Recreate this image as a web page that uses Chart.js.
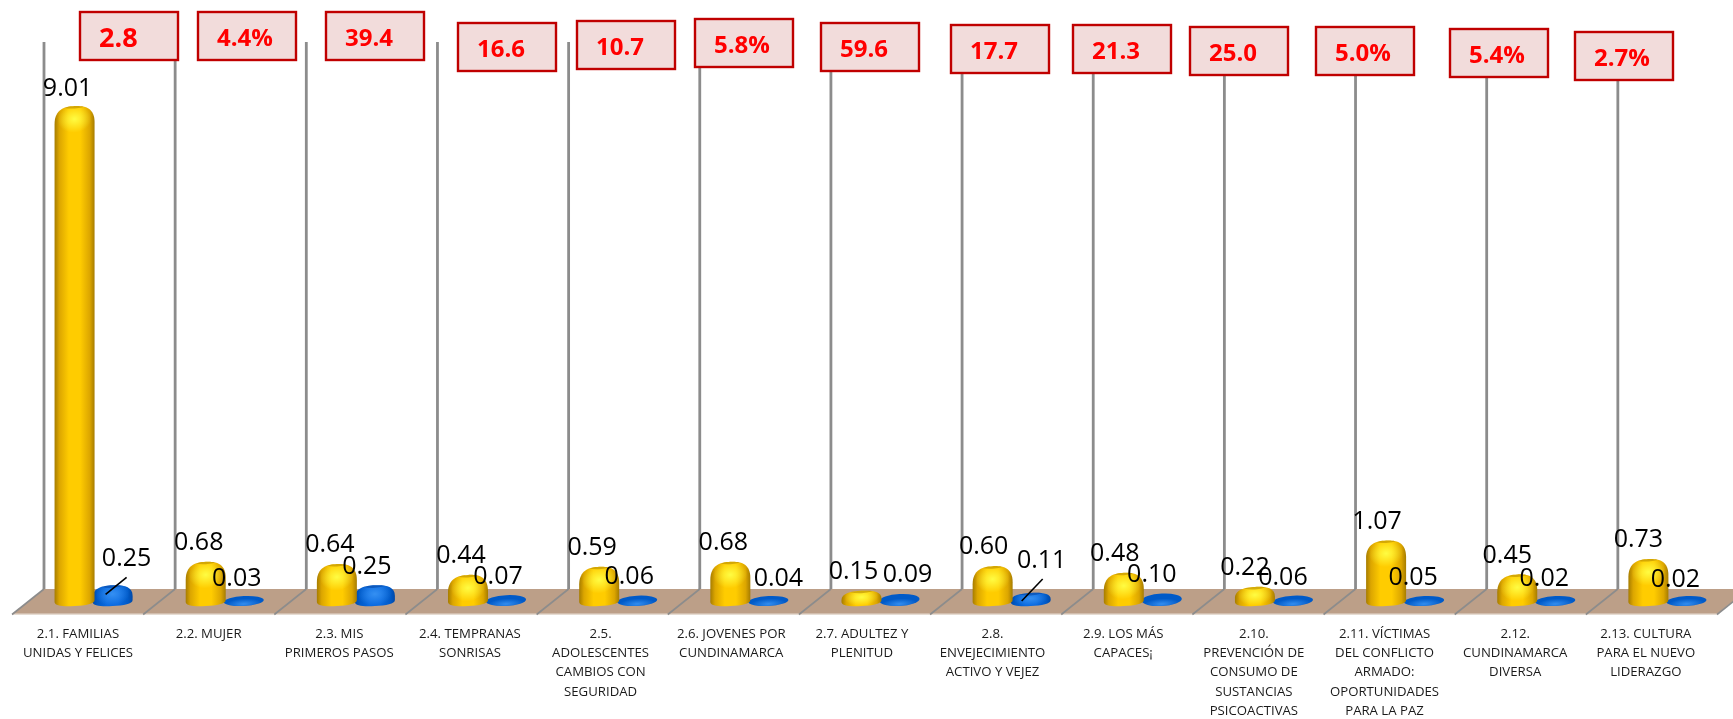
<!DOCTYPE html>
<html><head><meta charset="utf-8">
<script src="https://cdn.jsdelivr.net/npm/chart.js@4"></script>
<style>html,body{margin:0;padding:0;background:#fff}#w{position:relative;width:1733px;height:719px}</style>
</head><body><div id="w"><canvas id="c" width="1733" height="719"></canvas></div>
<script>
const categories = [
  ["2.1. FAMILIAS","UNIDAS Y FELICES"],
  ["2.2. MUJER"],
  ["2.3. MIS","PRIMEROS PASOS"],
  ["2.4. TEMPRANAS","SONRISAS"],
  ["2.5.","ADOLESCENTES","CAMBIOS CON","SEGURIDAD"],
  ["2.6. JOVENES POR","CUNDINAMARCA"],
  ["2.7. ADULTEZ Y","PLENITUD"],
  ["2.8.","ENVEJECIMIENTO","ACTIVO Y VEJEZ"],
  ["2.9. LOS MÁS","CAPACES¡"],
  ["2.10.","PREVENCIÓN DE","CONSUMO DE","SUSTANCIAS","PSICOACTIVAS"],
  ["2.11. VÍCTIMAS","DEL CONFLICTO","ARMADO:","OPORTUNIDADES","PARA LA PAZ"],
  ["2.12.","CUNDINAMARCA","DIVERSA"],
  ["2.13. CULTURA","PARA EL NUEVO","LIDERAZGO"]
];
const yellowValues = [9.01,0.68,0.64,0.44,0.59,0.68,0.15,0.60,0.48,0.22,1.07,0.45,0.73];
const blueValues   = [0.25,0.03,0.25,0.07,0.06,0.04,0.09,0.11,0.10,0.06,0.05,0.02,0.02];
const boxTexts = ["2.8","4.4%","39.4","16.6","10.7","5.8%","59.6","17.7","21.3","25.0","5.0%","5.4%","2.7%"];

// layout only
const boxLeft = [80,198,326,458,577,695,821,951,1073,1190,1316,1450,1575];
const boxTop  = [12,12,12,23,21,19,23,25,25,27,27,29,32];
const yellowLabelDx = [-7,-7,-7,-7,-7,-7,-8,-9,-9,-10,-9,-10,-10];
const yellowLabelDy = [-22,-24,-24,-24,-24,-24,-24,-24,-24,-24,-24,-24,-24];
const blueLabelDx = [14,-7,-8,-8,-8,10,8,11,-10,-10,-11,-11,-11];
const blueLabelDy = [-31,-23,-23,-23,-24,-23,-24,-37,-24,-23,-23,-24,-23];
const leaders = {0:[-21,35,0,18],7:[-20,40,1,18]};

const shades = {
  '#ffc800':{edge:'#a67c00',mid:'#dca600',core:'#ffcc00',hi:'rgba(255,255,70,0.95)',rim:'rgba(170,125,0,0.5)'},
  '#0a63d6':{edge:'#0049a8',mid:'#005ac8',core:'#0a6ae0',hi:'rgba(60,150,245,0.85)',rim:'rgba(0,60,150,0.5)'}
};
Chart.BarElement.prototype.draw = function(ctx){
  const s = shades[this.options.backgroundColor.toLowerCase()] || shades['#ffc800'];
  const cx=this.x, w=40, L=cx-w/2, R=cx+w/2, B=this.base+2, T=Math.min(this.y-5,B-10);
  const h=B-T;
  ctx.save();
  ctx.transform(1,-0.05,0,1,0,cx*0.05);
  if(h<=12.5){
    // nearly empty value: a flat disc
    ctx.beginPath();ctx.ellipse(cx,(T+B)/2,w/2,h/2,0,0,Math.PI*2);
    ctx.fillStyle=s.mid;ctx.fill();ctx.clip();
    ctx.translate(cx,B-2);ctx.scale(1,.3);
    const r0=ctx.createRadialGradient(0,0,0,0,0,18);
    r0.addColorStop(0,s.hi);r0.addColorStop(1,s.hi.replace(/[\d.]+\)$/,'0)'));
    ctx.fillStyle=r0;ctx.fillRect(-22,-22,44,44);
    ctx.restore();
    return;
  }
  const sh=Math.min(h*.55,17);
  ctx.beginPath();
  ctx.moveTo(L,B-5);
  ctx.bezierCurveTo(L,B-1,L+w*.22,B,cx,B);
  ctx.bezierCurveTo(R-w*.22,B,R,B-1,R,B-5);
  ctx.lineTo(R,T+sh);
  ctx.bezierCurveTo(R,T+sh*.15,R-w*.25,T,cx,T);
  ctx.bezierCurveTo(L+w*.25,T,L,T+sh*.15,L,T+sh);
  ctx.closePath();
  const g=ctx.createLinearGradient(L,0,R,0);
  g.addColorStop(0,s.edge);g.addColorStop(.12,s.mid);g.addColorStop(.36,s.core);
  g.addColorStop(.64,s.core);g.addColorStop(.88,s.mid);g.addColorStop(1,s.edge);
  ctx.fillStyle=g;ctx.fill();
  ctx.clip();
  ctx.save();
  ctx.translate(cx,T+Math.min(h*.42,13));
  ctx.scale(1,Math.min(h/30,.8));
  const r=ctx.createRadialGradient(0,0,0,0,0,17);
  r.addColorStop(0,s.hi);r.addColorStop(1,s.hi.replace(/[\d.]+\)$/,'0)'));
  ctx.fillStyle=r;ctx.fillRect(-22,-22,44,44);
  ctx.restore();
  ctx.beginPath();ctx.ellipse(cx,T-2.5,15,5,0,0,Math.PI*2);ctx.fillStyle=s.rim;ctx.fill();
  ctx.restore();
};

const chromePlugin = {
  id:'chrome',
  beforeDatasetsDraw(chart){
    const {ctx,scales:{x}}=chart;
    const band=x.getPixelForValue(1)-x.getPixelForValue(0);
    const edge=i=>x.getPixelForValue(0)-band/2+i*band;
    const backY=589, frontY=614, d=16;
    ctx.save();
    ctx.fillStyle='#bc9f88';
    ctx.beginPath();ctx.moveTo(edge(0)-d,frontY);ctx.lineTo(edge(0)+d,backY);
    ctx.lineTo(edge(13)+d,backY);ctx.lineTo(edge(13)-d,frontY);ctx.closePath();ctx.fill();
    ctx.fillStyle='#e6dcd2';ctx.fillRect(edge(0)-d,frontY-.5,edge(13)-edge(0),1.5);
    ctx.strokeStyle='#8c8c8c';
    for(let i=0;i<=13;i++){
      ctx.lineWidth=2.8;ctx.beginPath();ctx.moveTo(edge(i)+d,42);ctx.lineTo(edge(i)+d,backY);ctx.stroke();
      ctx.lineWidth=1.6;ctx.beginPath();ctx.moveTo(edge(i)+d,backY);ctx.lineTo(edge(i)-d,frontY+.5);ctx.stroke();
    }
    ctx.restore();
  },
  afterDatasetsDraw(chart){
    const {ctx}=chart, a=chart.getDatasetMeta(0).data, b=chart.getDatasetMeta(1).data;
    ctx.save();
    ctx.fillStyle='#000';ctx.font='25px "Open Sans"';ctx.textAlign='center';ctx.textBaseline='middle';
    a.forEach((e,i)=>ctx.fillText(yellowValues[i].toFixed(2),e.x+yellowLabelDx[i],e.y+yellowLabelDy[i]));
    b.forEach((e,i)=>{
      const lx=e.x+blueLabelDx[i], ly=e.y+blueLabelDy[i];
      ctx.fillText(blueValues[i].toFixed(2),lx,ly);
      const l=leaders[i];
      if(l){ctx.strokeStyle='#000';ctx.lineWidth=1.6;ctx.beginPath();ctx.moveTo(lx+l[2],ly+l[3]);ctx.lineTo(lx+l[0],ly+l[1]);ctx.stroke();}
    });
    boxTexts.forEach((t,i)=>{
      const X=boxLeft[i],Y=boxTop[i];
      ctx.fillStyle='#f2dcdb';ctx.fillRect(X,Y,98,48);
      ctx.strokeStyle='#c00000';ctx.lineWidth=2.4;ctx.strokeRect(X,Y,98,48);
      ctx.fillStyle='#ff0000';ctx.textAlign='left';
      ctx.font=(i===0?'bold 27px':'bold 24px')+' "Open Sans"';
      ctx.fillText(t,X+19,Y+27);
    });
    ctx.restore();
  }
};

new Chart(document.getElementById('c'),{
  type:'bar',
  data:{labels:categories,datasets:[
    {data:yellowValues,backgroundColor:'#FFC800',clip:false},
    {data:blueValues,backgroundColor:'#0A63D6',clip:false}
  ]},
  options:{
    responsive:false,animation:false,
    categoryPercentage:0.58,barPercentage:1.05,
    layout:{padding:{left:28,right:-1.25,top:0,bottom:0}},
    plugins:{legend:{display:false},tooltip:{enabled:false},title:{display:false}},
    scales:{
      y:{display:false,min:0,max:11.04},
      x:{
        afterFit(s){
          s.height=115;
          s.paddingLeft=0;s.paddingRight=0;
          // the reference's labels run a little tighter than its bands
          if(!s._tightened){
            s._tightened=true;
            const base=s._computeLabelItems;
            s._computeLabelItems=function(area){
              const items=base.call(this,area);
              items.forEach((t,i)=>{t.options.translation=[t.options.translation[0]-i*0.5,t.options.translation[1]];});
              return items;
            };
          }
        },
        border:{display:false},
        grid:{display:false,drawTicks:false,tickLength:0},
        ticks:{autoSkip:false,maxRotation:0,minRotation:0,padding:20,labelOffset:-15.6,color:'#1a1a1a',
          font:{family:'"Open Sans"',size:13.2,lineHeight:1.477}}
      }
    }
  },
  plugins:[chromePlugin]
});
</script></body></html>
